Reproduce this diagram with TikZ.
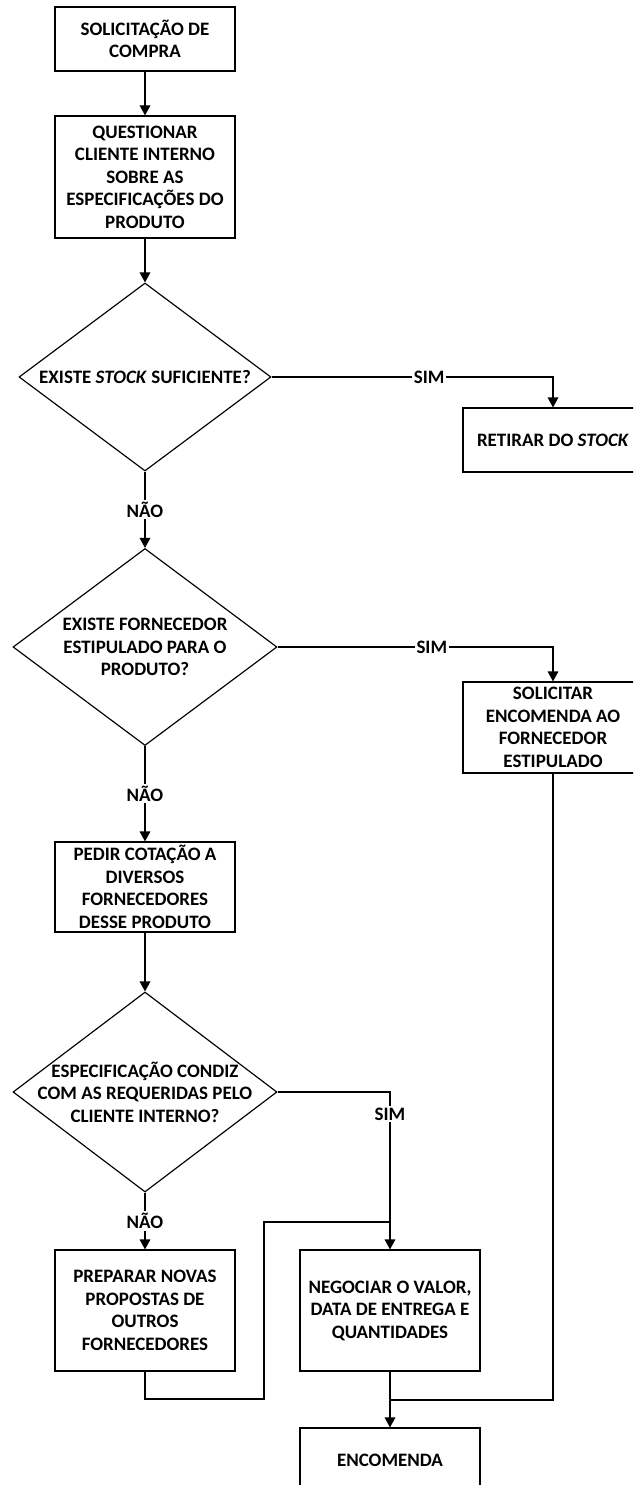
\documentclass[tikz,border=0pt]{standalone}
\usepackage{fontspec}
\setmainfont{Carlito}
\usetikzlibrary{arrows.meta}
\usetikzlibrary{shapes.geometric}

\begin{document}
\begin{tikzpicture}[x=0.03cm,y=-0.03cm,
  font={\fontsize{16.2}{19.2}\selectfont\bfseries},
  line width=0.035cm,
  box/.style={draw,rectangle,minimum width=5.4cm,inner sep=0pt,align=center},
  decision/.style={draw,diamond,inner sep=0pt},
  answer/.style={fill=white,inner sep=1.5pt},
  >={Triangle[width=0.32cm,length=0.3cm]}]
\useasboundingbox (0,0) rectangle (633,1485);
\clip (0,0) rectangle (633,1485);
\node[box,minimum height=1.92cm] (req) at (145,39) {SOLICITAÇÃO DE\\COMPRA};
\node[box,minimum height=3.66cm] (ask) at (145,177) {QUESTIONAR\\CLIENTE INTERNO\\SOBRE AS\\ESPECIFICAÇÕES DO\\PRODUTO};
\node[decision,minimum width=7.56cm,minimum height=5.64cm] (stock) at (145,377) {};
\node (stock-t) at (stock) {EXISTE \textit{STOCK} SUFICIENTE?};
\node[box,minimum height=1.92cm] (take) at (553,440) {RETIRAR DO \textit{STOCK}};
\node[decision,minimum width=7.92cm,minimum height=5.91cm] (supp) at (145,647) {};
\node[align=center] (supp-t) at (supp) {EXISTE FORNECEDOR\\ESTIPULADO PARA O\\PRODUTO?};
\node[box,minimum height=2.73cm] (order) at (553,727.5) {SOLICITAR\\ENCOMENDA AO\\FORNECEDOR\\ESTIPULADO};
\node[box,minimum height=2.7cm] (quote) at (145,887) {PEDIR COTAÇÃO A\\DIVERSOS\\FORNECEDORES\\DESSE PRODUTO};
\node[decision,minimum width=7.92cm,minimum height=6cm] (spec) at (145,1092) {};
\node[align=center] (spec-t) at (spec) {ESPECIFICAÇÃO CONDIZ\\COM AS REQUERIDAS PELO\\CLIENTE INTERNO?};
\node[box,minimum height=3.63cm] (prep) at (145,1310.5) {PREPARAR NOVAS\\PROPOSTAS DE\\OUTROS\\FORNECEDORES};
\node[box,minimum height=3.63cm] (deal) at (390,1310.5) {NEGOCIAR O VALOR,\\DATA DE ENTREGA E\\QUANTIDADES};
\node[box,minimum height=1.92cm] (buy) at (390,1460) {ENCOMENDA};
\coordinate (back) at (264,1399);
\coordinate (meet) at (390,1222);
\coordinate (join) at (390,1400);
\draw[->] (req) -- (ask);
\draw[->] (ask) -- (stock);
\draw[->] (stock.east) -| node[answer,pos=0.28] (yes1) {SIM} (take.north);
\draw[->] (stock.south) -- node[answer] (no1) {NÃO} (supp.north);
\draw[->] (supp.east) -| node[answer,pos=0.28] (yes2) {SIM} (order.north);
\draw[->] (supp.south) -- node[answer] (no2) {NÃO} (quote.north);
\draw[->] (quote) -- (spec);
\draw[->] (spec.east) -| node[answer,pos=0.57] (yes3) {SIM} (deal.north);
\draw[->] (spec.south) -- node[answer] (no3) {NÃO} (prep.north);
\draw (prep.south) |- (back) |- (meet);
\draw[->] (deal) -- (buy);
\draw (order.south) |- (join);
\end{tikzpicture}
\end{document}
